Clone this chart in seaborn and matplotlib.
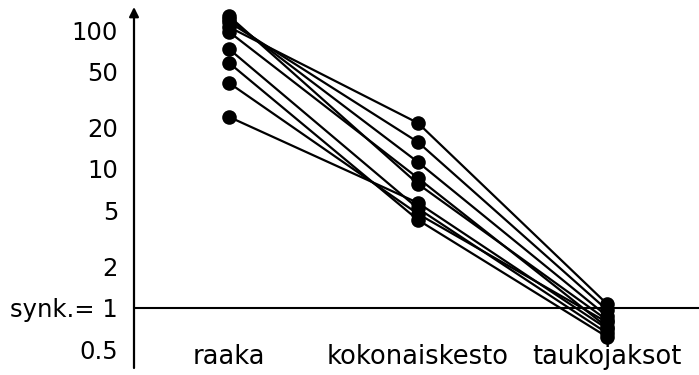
import matplotlib
matplotlib.use("Agg")
import matplotlib.pyplot as plt
import seaborn as sns
import pandas as pd

# Relative processing cost per recording at three stages (1 = synchronous)
vaiheet = ["raaka", "kokonaiskesto", "taukojaksot"]
raaka = [126, 120, 114, 105, 97, 73, 58, 41.6, 23.7]
kokonaiskesto = [7.8, 11.2, 15.6, 21.4, 8.6, 5.2, 4.3, 4.75, 5.7]
taukojaksot = [0.82, 0.875, 0.97, 1.07, 0.73, 0.66, 0.62, 0.79, 0.71]

y_ticks = [0.5, 1, 2, 5, 10, 20, 50, 100]
y_tick_labels = ["0.5", "synk.= 1", "2", "5", "10", "20", "50", "100"]

rows = []
for i, (a, b, c) in enumerate(zip(raaka, kokonaiskesto, taukojaksot)):
    for vaihe, arvo in zip(vaiheet, (a, b, c)):
        rows.append({"sarja": i, "vaihe": vaihe, "arvo": arvo})
df = pd.DataFrame(rows)

sns.set_style("white")
plt.rcParams["font.family"] = ["DejaVu Sans"]
plt.rcParams["text.color"] = "black"
plt.rcParams["ytick.color"] = "black"

fig = plt.figure(figsize=(6.99, 3.75), dpi=100)
ax = fig.add_axes([134 / 699, 1 - 368 / 375, 1 - 134 / 699, 361 / 375])

sns.lineplot(data=df, x="vaihe", y="arvo", units="sarja", estimator=None,
             sort=False, color="black", marker="o", markersize=10.5,
             markeredgewidth=0, linewidth=1.6, ax=ax, legend=False)

ax.set_yscale("log")
ax.set_xlim(-0.503, 2.487)
ax.set_ylim(0.370, 146.4)

ax.axhline(1, color="black", lw=1.5, zorder=1)

for s in ax.spines.values():
    s.set_visible(False)
ax.annotate("", xy=(0, 1), xytext=(0, 0), xycoords="axes fraction",
            arrowprops=dict(arrowstyle="-|>", color="black", lw=1.6,
                            mutation_scale=14, shrinkA=0, shrinkB=0))

ax.set_yticks(y_ticks, y_tick_labels)
ax.yaxis.set_minor_locator(matplotlib.ticker.NullLocator())
ax.tick_params(axis="y", length=0, pad=11.5, labelsize=17.5,
               labelcolor="black")

ax.set_xticks([])
ax.set_xlabel("")
ax.set_ylabel("")
for i, nimi in enumerate(vaiheet):
    ax.text(i, 0.011, nimi, transform=ax.get_xaxis_transform(),
            ha="center", va="baseline", fontsize=18.5, color="black")

fig.savefig("out.png", dpi=100)
